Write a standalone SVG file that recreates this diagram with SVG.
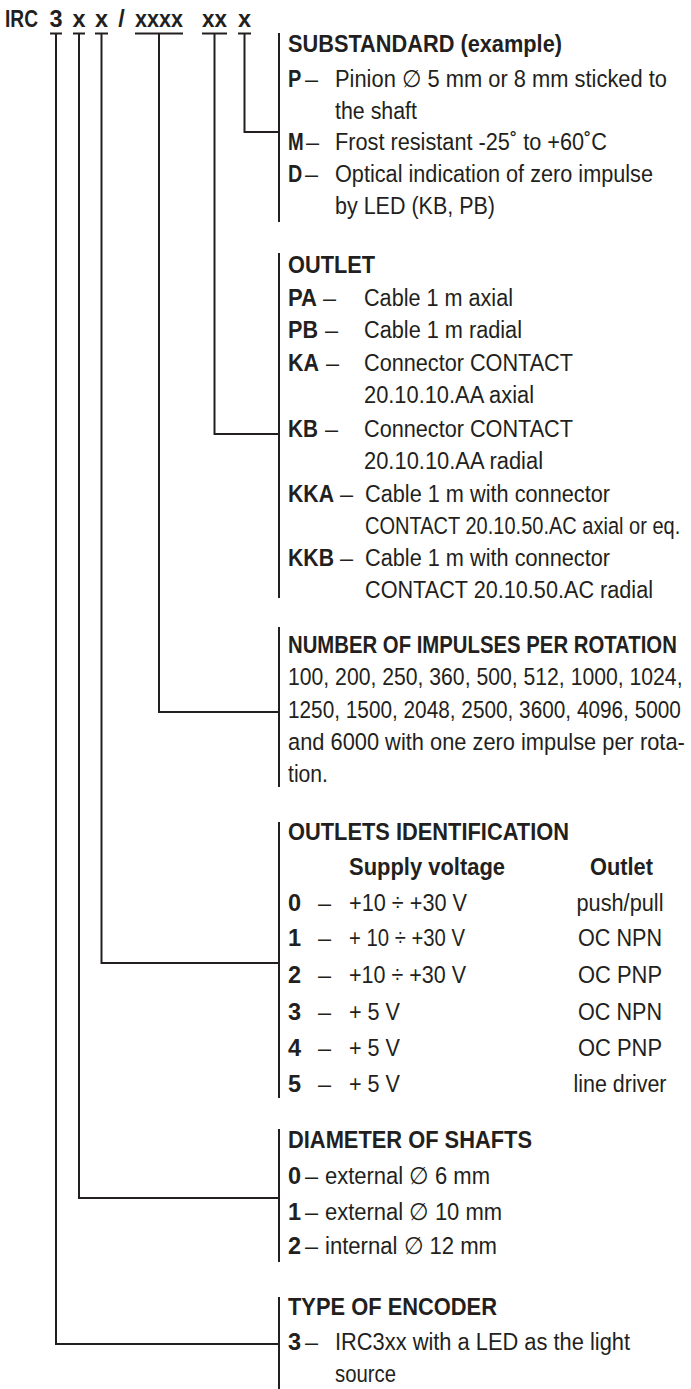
<svg xmlns="http://www.w3.org/2000/svg" width="691" height="1389" viewBox="0 0 691 1389">
<style>
text{font-family:"Liberation Sans",Arial,sans-serif;font-size:23.5px;fill:#231f20}
.b{font-weight:bold}
.m{text-anchor:middle}
.ln{stroke:#231f20;stroke-width:2;fill:none}
</style>
<rect width="691" height="1389" fill="#fff"/>
<g id="code">
<text class="b" x="5" y="27" textLength="33" lengthAdjust="spacingAndGlyphs">IRC</text>
<text class="b m" x="56" y="27">3</text>
<text class="b m" x="79" y="27">x</text>
<text class="b m" x="101.5" y="27">x</text>
<text class="b m" x="121.5" y="27">/</text>
<text class="b" x="135" y="27" textLength="48" lengthAdjust="spacingAndGlyphs">xxxx</text>
<text class="b" x="202" y="27" textLength="25" lengthAdjust="spacingAndGlyphs">xx</text>
<text class="b m" x="244.5" y="27">x</text>
<path class="ln" d="M50,33.5H62M73,33.5H85M95,33.5H108M135,33.5H183M202,33.5H227M238,33.5H251"/>
</g>
<g id="connectors">
<path class="ln" d="M244.5,33.5V132H279"/>
<path class="ln" d="M214.5,33.5V434H279"/>
<path class="ln" d="M159,33.5V712H279"/>
<path class="ln" d="M101.5,33.5V963H279"/>
<path class="ln" d="M79,33.5V1198H279"/>
<path class="ln" d="M56,33.5V1344H279"/>
</g>
<g id="substandard">
<path class="ln" d="M279,33V222"/>
<text class="b" x="288" y="52" textLength="274" lengthAdjust="spacingAndGlyphs">SUBSTANDARD (example)</text>
<text class="b" transform="translate(288,87) scale(0.85,1)">P</text><text x="305" y="87">–</text>
<text x="335" y="87" textLength="332" lengthAdjust="spacingAndGlyphs">Pinion ∅ 5 mm or 8 mm sticked to</text>
<text x="335" y="119" textLength="82" lengthAdjust="spacingAndGlyphs">the shaft</text>
<text class="b" transform="translate(288,150) scale(0.8,1)">M</text><text x="306" y="150">–</text>
<text x="335" y="150" textLength="272" lengthAdjust="spacingAndGlyphs">Frost resistant -25˚ to +60˚C</text>
<text class="b" transform="translate(288,182) scale(0.84,1)">D</text><text x="305" y="182">–</text>
<text x="335" y="182" textLength="318" lengthAdjust="spacingAndGlyphs">Optical indication of zero impulse</text>
<text x="335" y="214" textLength="160" lengthAdjust="spacingAndGlyphs">by LED (KB, PB)</text>
</g>
<g id="outlet">
<path class="ln" d="M279,253V598"/>
<text class="b" x="288" y="273" textLength="87" lengthAdjust="spacingAndGlyphs">OUTLET</text>
<text class="b" x="288" y="306" textLength="29" lengthAdjust="spacingAndGlyphs">PA</text><text x="323" y="306">–</text>
<text x="364" y="306" textLength="149" lengthAdjust="spacingAndGlyphs">Cable 1 m axial</text>
<text class="b" x="288" y="338" textLength="30" lengthAdjust="spacingAndGlyphs">PB</text><text x="325" y="338">–</text>
<text x="364" y="338" textLength="158" lengthAdjust="spacingAndGlyphs">Cable 1 m radial</text>
<text class="b" x="288" y="371" textLength="31" lengthAdjust="spacingAndGlyphs">KA</text><text x="326" y="371">–</text>
<text x="364" y="371" textLength="209" lengthAdjust="spacingAndGlyphs">Connector CONTACT</text>
<text x="364" y="403" textLength="170" lengthAdjust="spacingAndGlyphs">20.10.10.AA axial</text>
<text class="b" x="288" y="437" textLength="30" lengthAdjust="spacingAndGlyphs">KB</text><text x="325" y="437">–</text>
<text x="364" y="437" textLength="209" lengthAdjust="spacingAndGlyphs">Connector CONTACT</text>
<text x="364" y="469" textLength="179" lengthAdjust="spacingAndGlyphs">20.10.10.AA radial</text>
<text class="b" x="288" y="502" textLength="46" lengthAdjust="spacingAndGlyphs">KKA</text><text x="340" y="502">–</text>
<text x="365" y="502" textLength="245" lengthAdjust="spacingAndGlyphs">Cable 1 m with connector</text>
<text transform="translate(365,534) scale(0.852,1)">CONTACT 20.10.50.AC axial or eq.</text>
<text class="b" x="288" y="566" textLength="46" lengthAdjust="spacingAndGlyphs">KKB</text><text x="340" y="566">–</text>
<text x="365" y="566" textLength="245" lengthAdjust="spacingAndGlyphs">Cable 1 m with connector</text>
<text x="365" y="598" textLength="288" lengthAdjust="spacingAndGlyphs">CONTACT 20.10.50.AC radial</text>
</g>
<g id="impulses">
<path class="ln" d="M279,627V787"/>
<text class="b" transform="translate(288,653) scale(0.865,1)">NUMBER OF IMPULSES PER ROTATION</text>
<text transform="translate(288,685) scale(0.902,1)">100, 200, 250, 360, 500, 512, 1000, 1024,</text>
<text transform="translate(288,718) scale(0.885,1)">1250, 1500, 2048, 2500, 3600, 4096, 5000</text>
<text transform="translate(288,750) scale(0.9295,1)">and 6000 with one zero impulse per rota-</text>
<text x="288" y="782" textLength="40" lengthAdjust="spacingAndGlyphs">tion.</text>
</g>
<g id="outlets-identification">
<path class="ln" d="M279,822V1098"/>
<text class="b" x="288" y="840" textLength="281" lengthAdjust="spacingAndGlyphs">OUTLETS IDENTIFICATION</text>
<text class="b" x="349" y="875" textLength="156" lengthAdjust="spacingAndGlyphs">Supply voltage</text>
<text class="b" x="590" y="875" textLength="63" lengthAdjust="spacingAndGlyphs">Outlet</text>
<text class="b" x="288" y="911">0</text><text x="318" y="911">–</text><text x="349" y="911" textLength="118" lengthAdjust="spacingAndGlyphs">+10 ÷ +30 V</text><text x="576.5" y="911" textLength="87" lengthAdjust="spacingAndGlyphs">push/pull</text>
<text class="b" x="288" y="946">1</text><text x="318" y="946">–</text><text x="349" y="946" textLength="116" lengthAdjust="spacingAndGlyphs">+ 10 ÷ +30 V</text><text x="578" y="946" textLength="84" lengthAdjust="spacingAndGlyphs">OC NPN</text>
<text class="b" x="288" y="983">2</text><text x="318" y="983">–</text><text x="349" y="983" textLength="117" lengthAdjust="spacingAndGlyphs">+10 ÷ +30 V</text><text x="578" y="983" textLength="84" lengthAdjust="spacingAndGlyphs">OC PNP</text>
<text class="b" x="288" y="1020">3</text><text x="318" y="1020">–</text><text x="349" y="1020" textLength="51" lengthAdjust="spacingAndGlyphs">+ 5 V</text><text x="578" y="1020" textLength="84" lengthAdjust="spacingAndGlyphs">OC NPN</text>
<text class="b" x="288" y="1056">4</text><text x="318" y="1056">–</text><text x="349" y="1056" textLength="51" lengthAdjust="spacingAndGlyphs">+ 5 V</text><text x="578" y="1056" textLength="84" lengthAdjust="spacingAndGlyphs">OC PNP</text>
<text class="b" x="288" y="1092">5</text><text x="318" y="1092">–</text><text x="349" y="1092" textLength="51" lengthAdjust="spacingAndGlyphs">+ 5 V</text><text x="573.5" y="1092" textLength="93" lengthAdjust="spacingAndGlyphs">line driver</text>
</g>
<g id="diameter">
<path class="ln" d="M279,1129V1262"/>
<text class="b" x="288" y="1148" textLength="244" lengthAdjust="spacingAndGlyphs">DIAMETER OF SHAFTS</text>
<text class="b" x="288" y="1184">0</text><text x="305" y="1184">–</text><text x="325" y="1184" textLength="165" lengthAdjust="spacingAndGlyphs">external ∅ 6 mm</text>
<text class="b" x="288" y="1220">1</text><text x="305" y="1220">–</text><text x="325" y="1220" textLength="177" lengthAdjust="spacingAndGlyphs">external ∅ 10 mm</text>
<text class="b" x="288" y="1254">2</text><text x="305" y="1254">–</text><text x="325" y="1254" textLength="172" lengthAdjust="spacingAndGlyphs">internal ∅ 12 mm</text>
</g>
<g id="type">
<path class="ln" d="M279,1297V1389"/>
<text class="b" x="288" y="1315" textLength="209" lengthAdjust="spacingAndGlyphs">TYPE OF ENCODER</text>
<text class="b" x="288" y="1350">3</text><text x="305" y="1350">–</text>
<text x="335" y="1350" textLength="295" lengthAdjust="spacingAndGlyphs">IRC3xx with a LED as the light</text>
<text x="335" y="1382" textLength="61" lengthAdjust="spacingAndGlyphs">source</text>
</g>
</svg>
